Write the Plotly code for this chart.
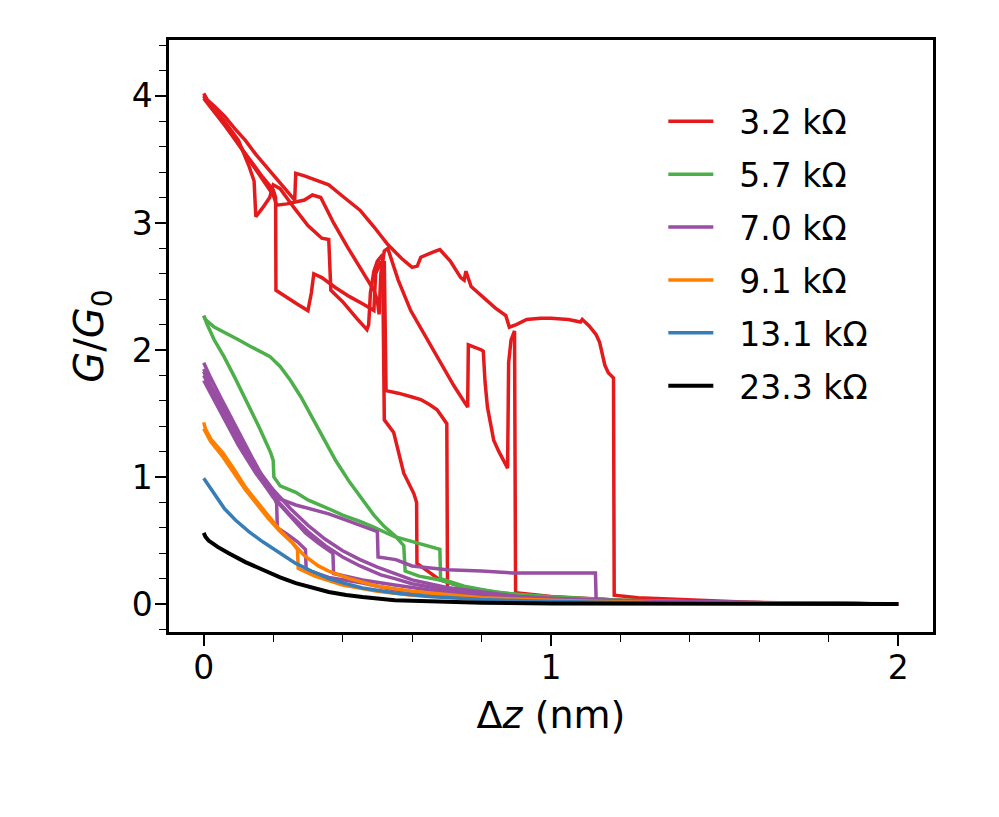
import plotly.graph_objects as go

# conductance traces G/G0 vs displacement (nm)
labels = ["3.2 kΩ", "5.7 kΩ", "7.0 kΩ", "9.1 kΩ", "13.1 kΩ", "23.3 kΩ"]
colors = ["#e41a1c", "#4daf4a", "#984ea3", "#ff7f00", "#377eb8", "#000000"]

# 3.2 kOhm
red_1_x = [0, 0.01, 0.03, 0.06, 0.09, 0.12, 0.15, 0.18, 0.21, 0.24, 0.262, 0.265, 0.29, 0.33, 0.36, 0.4,
           0.45, 0.49, 0.53, 0.57, 0.6, 0.615, 0.625, 0.66, 0.68, 0.71, 0.74, 0.75, 0.755, 0.77, 0.8, 0.84,
           0.87, 0.88, 0.9, 0.93, 0.97, 1.0, 1.05, 1.085, 1.09, 1.11, 1.13, 1.14, 1.155, 1.165, 1.18, 1.182,
           1.25, 1.34, 1.45, 1.57, 1.75, 2.0]
red_1_y = [4.02, 3.97, 3.92, 3.84, 3.74, 3.65, 3.54, 3.44, 3.34, 3.25, 3.18, 3.39, 3.37, 3.33, 3.3, 3.21,
           3.1, 2.97, 2.83, 2.72, 2.65, 2.66, 2.73, 2.77, 2.79, 2.7, 2.57, 2.55, 2.62, 2.5, 2.43, 2.33,
           2.27, 2.18, 2.2, 2.24, 2.25, 2.25, 2.24, 2.22, 2.24, 2.19, 2.12, 2.06, 1.88, 1.82, 1.78, 0.07,
           0.05, 0.04, 0.025, 0.015, 0.006, 0.0]
red_2_x = [0, 0.02, 0.05, 0.08, 0.11, 0.14, 0.17, 0.2, 0.21, 0.24, 0.29, 0.313, 0.337, 0.374, 0.414, 0.45,
           0.49, 0.5, 0.505, 0.51, 0.52, 0.53, 0.56, 0.596, 0.64, 0.68, 0.72, 0.76, 0.762, 0.8, 0.805, 0.81,
           0.817, 0.835, 0.85, 0.875, 0.878, 0.885, 0.895, 0.898, 1.0, 1.2, 1.5, 2.0]
red_2_y = [4.0, 3.92, 3.82, 3.7, 3.58, 3.45, 3.33, 3.22, 3.14, 3.15, 3.18, 3.22, 3.2, 3.0, 2.81, 2.65,
           2.47, 2.39, 2.28, 2.6, 2.78, 2.8, 2.55, 2.31, 2.1, 1.9, 1.72, 1.55, 2.04, 2.0, 1.99, 1.75,
           1.55, 1.29, 1.2, 1.07, 1.9, 2.08, 2.15, 0.09, 0.06, 0.03, 0.01, 0.0]
red_3_x = [0, 0.03, 0.06, 0.1, 0.14, 0.17, 0.2, 0.207, 0.208, 0.24, 0.27, 0.3, 0.31, 0.317, 0.34, 0.38,
           0.42, 0.46, 0.48, 0.49, 0.495, 0.51, 0.515, 0.52, 0.525, 0.56, 0.6, 0.625, 0.65, 0.672, 0.7,
           0.702, 0.75, 0.85, 1.0, 1.3, 1.6, 2.0]
red_3_y = [3.98, 3.88, 3.77, 3.62, 3.47, 3.36, 3.26, 3.2, 2.47, 2.41, 2.36, 2.31, 2.45, 2.6, 2.57, 2.49,
           2.42, 2.36, 2.33, 2.31, 2.6, 2.7, 2.55, 2.7, 1.68, 1.66, 1.63, 1.61, 1.57, 1.53, 1.42,
           0.11, 0.09, 0.065, 0.04, 0.02, 0.008, 0.0]
red_4_x = [0, 0.03, 0.06, 0.1, 0.13, 0.145, 0.15, 0.17, 0.19, 0.2, 0.22, 0.26, 0.3, 0.34, 0.36, 0.366,
           0.4, 0.44, 0.47, 0.475, 0.48, 0.49, 0.5, 0.515, 0.52, 0.547, 0.576, 0.605, 0.613, 0.614, 0.65,
           0.68, 0.74, 0.8, 0.9, 1.0, 1.2, 1.5, 2.0]
red_4_y = [4.0, 3.9, 3.8, 3.65, 3.45, 3.33, 3.05, 3.12, 3.2, 3.3, 3.27, 3.12, 2.98, 2.88, 2.87, 2.47,
           2.38, 2.25, 2.16, 2.2, 2.45, 2.62, 2.7, 2.75, 1.45, 1.35, 1.03, 0.87, 0.8, 0.32, 0.25,
           0.19, 0.14, 0.1, 0.07, 0.05, 0.03, 0.01, 0.0]

# 5.7 kOhm
green_1_x = [0, 0.005, 0.03, 0.06, 0.1, 0.14, 0.19, 0.22, 0.25, 0.28, 0.31, 0.34, 0.38, 0.42, 0.457, 0.49,
             0.52, 0.55, 0.576, 0.58, 0.62, 0.68, 0.74, 0.8, 0.9, 1.0, 1.2, 1.5, 2.0]
green_1_y = [2.27, 2.24, 2.18, 2.14, 2.08, 2.02, 1.95, 1.87, 1.76, 1.63, 1.48, 1.32, 1.13, 0.96, 0.82, 0.7,
             0.61, 0.54, 0.46, 0.26, 0.22, 0.19, 0.14, 0.11, 0.075, 0.055, 0.03, 0.012, 0.0]
green_2_x = [0, 0.01, 0.03, 0.058, 0.09, 0.127, 0.16, 0.193, 0.2, 0.202, 0.22, 0.265, 0.3, 0.36, 0.4, 0.45,
             0.486, 0.55, 0.6, 0.64, 0.68, 0.682, 0.75, 0.85, 1.0, 1.2, 1.5, 2.0]
green_2_y = [2.27, 2.2, 2.08, 1.95, 1.78, 1.58, 1.39, 1.19, 1.13, 1.0, 0.93, 0.88, 0.82, 0.75, 0.7, 0.65,
             0.61, 0.53, 0.49, 0.46, 0.43, 0.2, 0.14, 0.09, 0.055, 0.03, 0.012, 0.0]

# 7.0 kOhm
purple_1_x = [0, 0.02, 0.05, 0.08, 0.11, 0.14, 0.17, 0.2, 0.207, 0.265, 0.36, 0.42, 0.486, 0.5, 0.502,
              0.553, 0.6, 0.7, 0.8, 0.89, 1.0, 1.128, 1.13, 1.3, 2.0]
purple_1_y = [1.85, 1.72, 1.58, 1.42, 1.27, 1.13, 1.0, 0.88, 0.84, 0.78, 0.71, 0.65, 0.58, 0.57, 0.37,
              0.35, 0.3, 0.27, 0.26, 0.245, 0.245, 0.245, 0.03, 0.01, 0.0]
purple_2_x = [0, 0.02, 0.05, 0.08, 0.11, 0.14, 0.17, 0.2, 0.21, 0.212, 0.24, 0.27, 0.293, 0.295, 0.36,
              0.457, 0.55, 0.7, 0.9, 1.2, 2.0]
purple_2_y = [1.9, 1.78, 1.62, 1.46, 1.3, 1.15, 1.0, 0.86, 0.79, 0.6, 0.55, 0.49, 0.43, 0.27, 0.21,
              0.165, 0.11, 0.07, 0.04, 0.02, 0.0]
purple_3_x = [0, 0.02, 0.05, 0.08, 0.12, 0.16, 0.2, 0.24, 0.293, 0.33, 0.372, 0.374, 0.42, 0.457, 0.55,
              0.65, 0.8, 1.0, 1.3, 2.0]
purple_3_y = [1.8, 1.7, 1.55, 1.4, 1.2, 1.0, 0.84, 0.72, 0.56, 0.48, 0.4, 0.24, 0.21, 0.19, 0.15,
              0.11, 0.07, 0.04, 0.02, 0.0]
purple_4_x = [0, 0.02, 0.05, 0.1, 0.15, 0.2, 0.25, 0.3, 0.35, 0.4, 0.45, 0.51, 0.55, 0.6, 0.7, 0.8,
              1.0, 1.3, 2.0]
purple_4_y = [1.76, 1.66, 1.5, 1.25, 1.03, 0.85, 0.7, 0.57, 0.46, 0.37, 0.3, 0.23, 0.2, 0.16, 0.11, 0.08,
              0.04, 0.02, 0.0]
purple_5_x = [0, 0.02, 0.05, 0.1, 0.15, 0.2, 0.25, 0.3, 0.35, 0.4, 0.45, 0.5, 0.6, 0.7, 0.9, 1.2, 2.0]
purple_5_y = [1.83, 1.7, 1.54, 1.3, 1.08, 0.9, 0.75, 0.62, 0.51, 0.42, 0.35, 0.29, 0.19, 0.13, 0.06, 0.02,
              0.0]

# 9.1 kOhm
orange_1_x = [0, 0.005, 0.02, 0.055, 0.09, 0.12, 0.155, 0.187, 0.22, 0.256, 0.27, 0.272, 0.32, 0.4, 0.5,
              0.6, 0.8, 1.0, 1.3, 2.0]
orange_1_y = [1.43, 1.38, 1.3, 1.19, 1.05, 0.92, 0.8, 0.69, 0.58, 0.48, 0.43, 0.28, 0.22, 0.15, 0.1,
              0.07, 0.04, 0.02, 0.01, 0.0]
orange_2_x = [0, 0.02, 0.055, 0.09, 0.12, 0.155, 0.187, 0.22, 0.256, 0.29, 0.33, 0.36, 0.42, 0.5, 0.6,
              0.8, 1.0, 1.3, 2.0]
orange_2_y = [1.38, 1.28, 1.16, 1.02, 0.9, 0.78, 0.67, 0.57, 0.48, 0.38, 0.3, 0.26, 0.2, 0.14, 0.1,
              0.05, 0.03, 0.01, 0.0]

# 13.1 kOhm
blue_x = [0, 0.01, 0.035, 0.06, 0.092, 0.13, 0.17, 0.22, 0.265, 0.31, 0.36, 0.41, 0.457, 0.55, 0.65,
          0.8, 1.0, 1.3, 1.6, 2.0]
blue_y = [0.99, 0.95, 0.84, 0.75, 0.66, 0.57, 0.49, 0.4, 0.32, 0.26, 0.2, 0.16, 0.126, 0.087, 0.06,
          0.035, 0.02, 0.008, 0.003, 0.0]

# 23.3 kOhm
black_x = [0, 0.005, 0.014, 0.04, 0.072, 0.12, 0.17, 0.22, 0.265, 0.31, 0.36, 0.41, 0.457, 0.55, 0.65,
           0.8, 1.0, 1.5, 2.0]
black_y = [0.56, 0.53, 0.5, 0.45, 0.4, 0.33, 0.27, 0.21, 0.165, 0.13, 0.095, 0.072, 0.055, 0.03, 0.02,
           0.01, 0.005, 0.0, 0.0]

series = [
    [(red_1_x, red_1_y), (red_2_x, red_2_y), (red_3_x, red_3_y), (red_4_x, red_4_y)],
    [(green_1_x, green_1_y), (green_2_x, green_2_y)],
    [(purple_1_x, purple_1_y), (purple_2_x, purple_2_y), (purple_3_x, purple_3_y),
     (purple_4_x, purple_4_y), (purple_5_x, purple_5_y)],
    [(orange_1_x, orange_1_y), (orange_2_x, orange_2_y)],
    [(blue_x, blue_y)],
    [(black_x, black_y)],
]

FONT = "DejaVu Sans, Liberation Sans, sans-serif"

fig = go.Figure()
for i, traces in enumerate(series):
    for j, (x, y) in enumerate(traces):
        fig.add_trace(go.Scatter(
            x=x, y=y, mode="lines",
            name="\u2007" + labels[i],  # figure space pushes the label away from the swatch
            line=dict(color=colors[i], width=4 if i == 5 else 3.5),
            legendgroup=labels[i], showlegend=(j == 0),
        ))

axis_common = dict(
    showline=True, linecolor="black", linewidth=2.5, mirror=True,
    ticks="outside", ticklen=11, tickwidth=1.5, tickcolor="black",
    showgrid=False, zeroline=False,
    tickfont=dict(family=FONT, size=33, color="black"),
)
fig.update_xaxes(
    range=[-0.1, 2.1], tickvals=[0, 1, 2],
    minor=dict(dtick=0.2, tick0=0, ticks="outside", ticklen=7, tickwidth=1.2, tickcolor="black"),
    ticklabelstandoff=-6,
    title=dict(text="Δ<i>z</i> (nm)", font=dict(family=FONT, size=38, color="black"), standoff=16),
    **axis_common,
)
fig.update_yaxes(
    range=[-0.22, 4.44], tickvals=[0, 1, 2, 3, 4],
    minor=dict(dtick=0.2, tick0=0, ticks="outside", ticklen=7, tickwidth=1.2, tickcolor="black"),
    ticklabelstandoff=-4,
    title=dict(text="<i>G</i>/<i>G</i><sub>0</sub>", font=dict(family=FONT, size=40, color="black"),
               standoff=16),
    **axis_common,
)
fig.update_layout(
    width=999, height=817,
    margin=dict(l=161, r=74, t=32, b=193),
    plot_bgcolor="white", paper_bgcolor="white",
    font=dict(family=FONT, color="black"),
    legend=dict(
        x=0.647, y=0.91, xanchor="left", yanchor="top",
        font=dict(family=FONT, size=33, color="black"),
        bgcolor="rgba(0,0,0,0)", borderwidth=0,
        traceorder="grouped", tracegroupgap=7, itemwidth=45,
    ),
)

fig.write_html("out.html")
